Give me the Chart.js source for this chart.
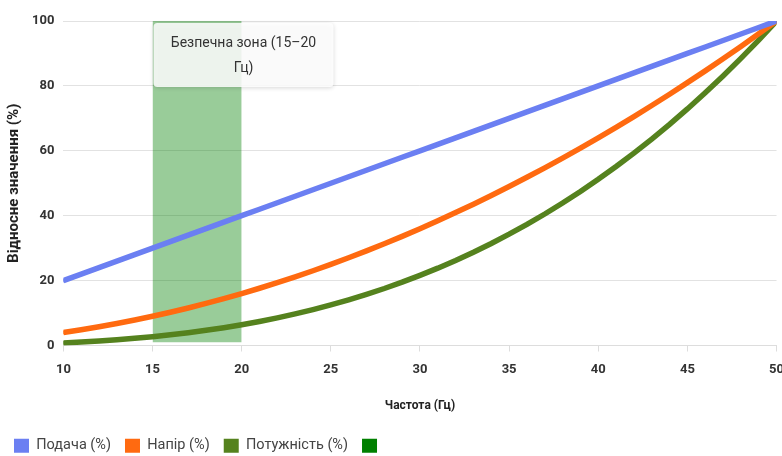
<!DOCTYPE html>
<html>
<head>
<meta charset="utf-8">
<script src="https://cdn.jsdelivr.net/npm/chart.js@4/dist/chart.umd.min.js"></script>
<style>
  html, body { margin: 0; padding: 0; background: #fff; overflow: hidden; }
  #wrap { position: relative; width: 782px; height: 456px; overflow: hidden; }
</style>
</head>
<body>
<div id="wrap"><canvas id="c" width="794" height="456"></canvas></div>
<script>
// Frequency, Hz
const freq = [10,11,12,13,14,15,16,17,18,19,20,21,22,23,24,25,26,27,28,29,30,
              31,32,33,34,35,36,37,38,39,40,41,42,43,44,45,46,47,48,49,50];
// Flow, % of nominal
const flow = [20,22,24,26,28,30,32,34,36,38,40,42,44,46,48,50,52,54,56,58,60,
              62,64,66,68,70,72,74,76,78,80,82,84,86,88,90,92,94,96,98,100];
// Head, % of nominal
const head = [4,4.84,5.76,6.76,7.84,9,10.24,11.56,12.96,14.44,16,17.64,19.36,21.16,23.04,25,
              27.04,29.16,31.36,33.64,36,38.44,40.96,43.56,46.24,49,51.84,54.76,57.76,60.84,64,
              67.24,70.56,73.96,77.44,81,84.64,88.36,92.16,96.04,100];
// Power, % of nominal
const power = [0.8,1.06,1.38,1.76,2.2,2.7,3.28,3.93,4.67,5.49,6.4,7.41,8.52,9.73,11.06,12.5,
               14.06,15.75,17.56,19.51,21.6,23.83,26.21,28.75,31.44,34.3,37.32,40.52,43.9,47.46,51.2,
               55.14,59.27,63.61,68.15,72.9,77.87,83.06,88.47,94.12,100];
// Safe operating band
const safeFrom = 15, safeTo = 20;
const safeLow = 1, safeHigh = 101;
const safeText = ['Безпечна зона (15–20', 'Гц)'];

const seriesNames = ['Подача (%)', 'Напір (%)', 'Потужність (%)'];
const colors = ['#6b7ff2', '#ff6a10', '#55821e'];

const pts = (ys) => freq.map((f, i) => ({ x: f, y: ys[i] }));

const lineDs = (label, ys, color) => ({
  label, data: pts(ys), borderColor: color, backgroundColor: color,
  borderWidth: 5.5, pointRadius: 1.8, pointBackgroundColor: color, pointBorderWidth: 0,
  tension: 0, fill: false, order: 1
});

// Caption box above the safe band
const bandLabel = {
  id: 'bandLabel',
  afterDatasetsDraw(chart) {
    const { ctx, scales: { x, y } } = chart;
    const left = x.getPixelForValue(safeFrom) + 1;
    const top = y.getPixelForValue(100) + 2;
    const w = 180, h = 64;
    ctx.save();
    ctx.shadowColor = 'rgba(0,0,0,0.18)';
    ctx.shadowBlur = 4;
    ctx.shadowOffsetY = 1;
    ctx.fillStyle = 'rgba(255,255,255,0.86)';
    ctx.beginPath();
    ctx.roundRect(left, top, w, h, 4);
    ctx.fill();
    ctx.shadowColor = 'transparent';
    ctx.fillStyle = '#333';
    ctx.font = '14px Roboto';
    ctx.textAlign = 'center';
    ctx.textBaseline = 'middle';
    ctx.fillText(safeText[0], left + w / 2, top + 20);
    ctx.fillText(safeText[1], left + w / 2, top + 45);
    ctx.restore();
  }
};

new Chart(document.getElementById('c'), {
  type: 'line',
  data: {
    datasets: [
      lineDs(seriesNames[0], flow, colors[0]),
      lineDs(seriesNames[1], head, colors[1]),
      lineDs(seriesNames[2], power, colors[2]),
      {
        label: '',
        data: [{ x: safeFrom, y: safeHigh }, { x: safeTo, y: safeHigh }],
        fill: { value: safeLow },
        backgroundColor: 'rgba(0,128,0,0.4)',
        borderColor: 'rgba(0,0,0,0)',
        borderWidth: 0, pointRadius: 0, clip: false, order: 2
      }
    ]
  },
  options: {
    responsive: false,
    animation: false,
    devicePixelRatio: 1,
    layout: { padding: { top: 21, right: 0, left: 0, bottom: -7 } },
    plugins: {
      tooltip: { enabled: false },
      legend: {
        position: 'bottom',
        align: 'start',
        labels: {
          font: { family: 'Roboto', size: 14.5 },
          color: '#444',
          boxWidth: 15,
          boxHeight: 14,
          padding: 14,
          generateLabels(chart) {
            const solid = [colors[0], colors[1], colors[2], '#008000'];
            return chart.data.datasets.map((d, i) => ({
              text: d.label, fillStyle: solid[i], strokeStyle: solid[i],
              lineWidth: 0, hidden: false, datasetIndex: i, fontColor: '#444'
            }));
          }
        }
      }
    },
    scales: {
      x: {
        type: 'linear', min: 10, max: 50,
        ticks: { stepSize: 5, color: '#333', font: { family: 'Roboto', size: 13, weight: 'bold' }, padding: 10 },
        grid: { drawOnChartArea: false, tickLength: 6, color: '#ddd' },
        border: { color: '#ddd' },
        title: { display: true, text: 'Частота (Гц)', color: '#222',
                 font: { family: 'Roboto', size: 12, weight: 'bold' }, padding: { top: 12, bottom: 11 } }
      },
      y: {
        min: 0, max: 100,
        ticks: { stepSize: 20, color: '#333', font: { family: 'Roboto', size: 13, weight: 'bold' }, padding: 9 },
        grid: { color: '#e2e2e2', drawTicks: false },
        border: { display: false },
        title: { display: true, text: 'Відносне значення (%)', color: '#222',
                 font: { family: 'Roboto', size: 15, weight: 'bold' }, padding: { top: 5, bottom: 0 } }
      }
    }
  },
  plugins: [bandLabel]
});
</script>
</body>
</html>
